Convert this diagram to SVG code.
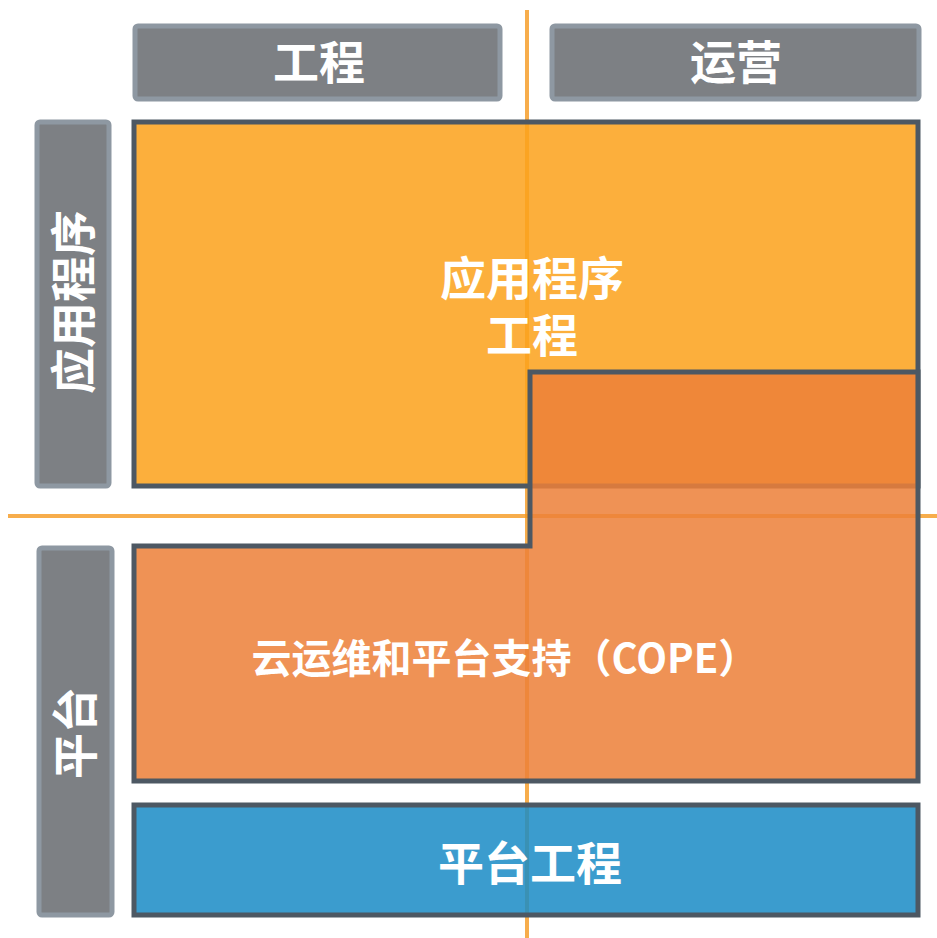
<svg xmlns="http://www.w3.org/2000/svg" width="937" height="938" viewBox="0 0 937 938">
<style>
.lbl{fill:#7d8084;stroke:#8e98a2;stroke-width:5}
.box{stroke:#4d5863;stroke-width:5;stroke-linejoin:miter}
.t{font-family:"Noto Sans CJK SC","Noto Sans",sans-serif;font-weight:bold;fill:#ffffff;text-anchor:middle}
.axis{stroke:#f5961a;stroke-width:4;stroke-opacity:0.78;fill:none}
</style>
<rect width="937" height="938" fill="#ffffff"/>
<g id="col-eng">
<rect class="lbl" x="135" y="26" width="365" height="73" rx="3"/>
<text class="t" x="319" y="79" font-size="46">工程</text>
</g>
<g id="col-ops">
<rect class="lbl" x="552" y="26" width="367" height="73" rx="3"/>
<text class="t" x="736" y="79" font-size="46">运营</text>
</g>
<g id="row-app">
<rect class="lbl" x="37" y="122" width="72" height="364" rx="3"/>
<text class="t" font-size="46" transform="translate(90 302) rotate(-90)" x="0" y="0">应用程序</text>
</g>
<g id="row-platform">
<rect class="lbl" x="39" y="548" width="73" height="367" rx="3"/>
<text class="t" font-size="46" transform="translate(92 733) rotate(-90)" x="0" y="0">平台</text>
</g>
<g id="connectors">
<line class="axis" x1="527" y1="10" x2="527" y2="938"/>
<line class="axis" x1="8" y1="516" x2="937" y2="516"/>
</g>
<g id="app-eng">
<rect class="box" x="134" y="122" width="784" height="364" fill="#fba21c" fill-opacity="0.86"/>
<text class="t" font-size="46"><tspan x="532" y="295">应用程序</tspan><tspan x="532" y="352">工程</tspan></text>
</g>
<g id="cope">
<path class="box" d="M530 372 H918 V781 H134 V546 H530 Z" fill="#ec8039" fill-opacity="0.86"/>
<text class="t" x="505" y="673" font-size="40">云运维和平台支持（COPE）</text>
</g>
<g id="platform-eng">
<rect class="box" x="134" y="805" width="784" height="110" fill="#1b8cc6" fill-opacity="0.86"/>
<text class="t" x="530" y="880" font-size="46">平台工程</text>
</g>
</svg>
